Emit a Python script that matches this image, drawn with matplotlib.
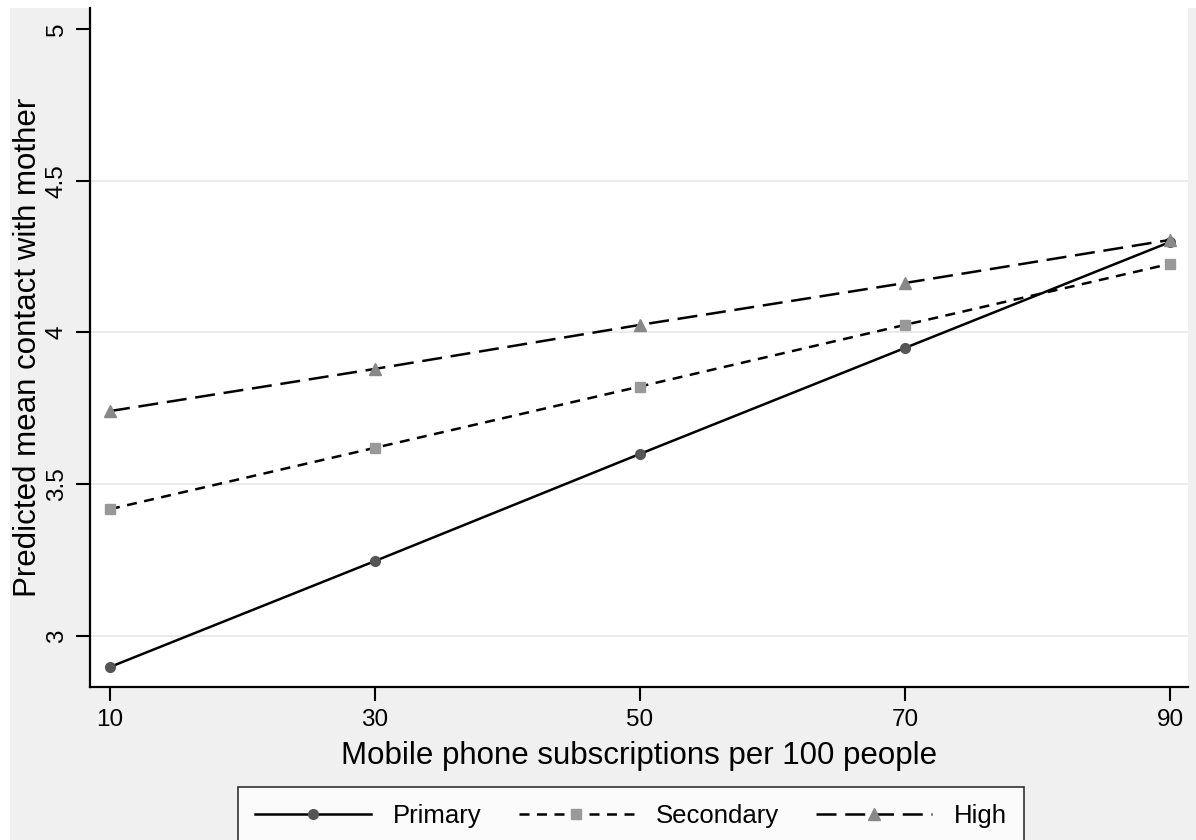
import matplotlib.pyplot as plt
import matplotlib.patches as mpatches

plt.rcParams['font.family'] = ['Liberation Sans', 'DejaVu Sans']

# predicted values by education level
subs = [10, 30, 50, 70, 90]
primary = [2.898, 3.247, 3.600, 3.949, 4.298]
secondary = [3.418, 3.620, 3.822, 4.025, 4.226]
high = [3.741, 3.880, 4.025, 4.163, 4.305]
series_names = ["Primary", "Secondary", "High"]
yticks = [3, 3.5, 4, 4.5, 5]
yticklabels = ["3", "3.5", "4", "4.5", "5"]

fig = plt.figure(figsize=(11.96, 8.4), dpi=100)
fig.patch.set_facecolor('white')
# grey graph region
fig.patches.append(mpatches.Rectangle((10 / 1196, 0), 1, 1 - 8 / 840,
                                      transform=fig.transFigure,
                                      facecolor='#f0f0f0', edgecolor='none',
                                      zorder=0))

ax = fig.add_axes([90 / 1196, 1 - 687 / 840, (1188 - 90) / 1196, (687 - 8) / 840])
ax.set_facecolor('white')
ax.set_zorder(1)

for yv in yticks[:-1]:
    ax.axhline(yv, color='#e8e8e8', lw=1.2, zorder=0)

ax.plot(subs, primary, color='black', lw=1.8, ls='-',
        marker='o', ms=7, mfc='#555555', mec='#555555', label=series_names[0])
ax.plot(subs, secondary, color='black', lw=1.8, ls=(0, (4, 3)),
        marker='s', ms=7, mfc='#999999', mec='#999999', label=series_names[1])
ax.plot(subs, high, color='black', lw=1.8, ls=(0, (8, 3.5)),
        marker='^', ms=8, mfc='#888888', mec='#888888', label=series_names[2])

ax.set_xlim(8.49, 91.36)
ax.set_ylim(2.832, 5.069)
ax.set_xticks(subs)
ax.set_xticklabels([str(s) for s in subs], fontsize=17.5)
ax.set_yticks(yticks)
ax.set_yticklabels(yticklabels, fontsize=17.5, rotation=90, va='center')

for side in ['top', 'right']:
    ax.spines[side].set_visible(False)
for side in ['left', 'bottom']:
    ax.spines[side].set_linewidth(1.6)
ax.tick_params(direction='out', length=10, width=1.5, pad=6)

ax.set_xlabel("Mobile phone subscriptions per 100 people", fontsize=22.5, labelpad=7)
ax.set_ylabel("Predicted mean contact with mother", fontsize=22.5, labelpad=2)

leg = fig.legend(loc='upper center', bbox_to_anchor=(631 / 1196, 1 - 774 / 840),
                 ncol=3, fontsize=18.5, frameon=True, fancybox=False,
                 edgecolor='black', handlelength=4.5, columnspacing=1.45,
                 borderpad=0.68, handletextpad=0.85)
leg.get_frame().set_linewidth(1.2)

fig.savefig('out.png', dpi=100, facecolor=fig.get_facecolor())
